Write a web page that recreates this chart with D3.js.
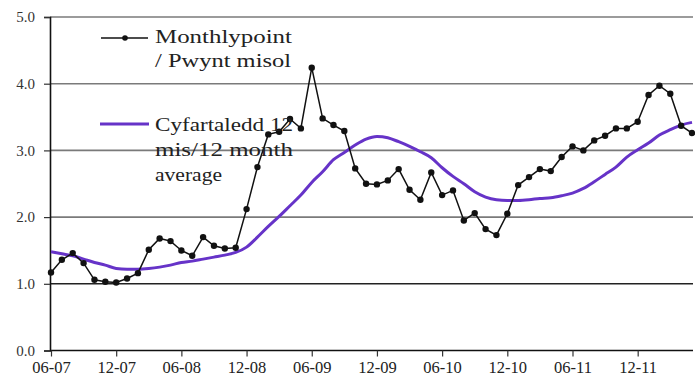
<!DOCTYPE html>
<html><head><meta charset="utf-8">
<script src="https://cdn.jsdelivr.net/npm/d3@7"></script>
<style>
html,body{margin:0;padding:0;background:#fff;}
svg{display:block;}
</style></head>
<body>
<svg id="c" width="695" height="378"></svg>
<script>
// ---- data ----
const startMonth = "06-07";
const tickLabels = ["06-07","12-07","06-08","12-08","06-09","12-09","06-10","12-10","06-11","12-11"];
const yTicks = [0,1,2,3,4,5];
const monthly = [1.17,1.36,1.46,1.31,1.06,1.03,1.02,1.08,1.16,1.51,
                 1.68,1.64,1.50,1.42,1.70,1.57,1.53,1.54,2.12,2.75,
                 3.24,3.28,3.47,3.33,4.24,3.48,3.38,3.29,2.73,2.50,
                 2.49,2.55,2.72,2.41,2.26,2.67,2.33,2.40,1.95,2.06,
                 1.82,1.73,2.05,2.48,2.60,2.72,2.69,2.90,3.06,3.00,
                 3.15,3.22,3.33,3.33,3.43,3.83,3.97,3.85,3.37,3.26];
const average = [1.48,1.45,1.42,1.37,1.32,1.28,1.23,1.22,1.22,1.23,
                 1.25,1.28,1.32,1.34,1.37,1.40,1.43,1.47,1.55,1.70,
                 1.86,2.01,2.17,2.33,2.52,2.68,2.86,2.97,3.08,3.17,
                 3.21,3.19,3.13,3.06,2.98,2.89,2.74,2.61,2.50,2.38,
                 2.30,2.26,2.25,2.25,2.26,2.28,2.29,2.32,2.36,2.43,
                 2.53,2.64,2.75,2.90,3.01,3.11,3.23,3.31,3.38,3.42];
const legendMonthly = ["Monthlypoint","/ Pwynt misol"];
const legendAverage = ["Cyfartaledd 12","mis/12 month","average"];

// ---- layout ----
const svg = d3.select("#c");
const x = d3.scaleLinear().domain([0, monthly.length - 1]).range([51, 692]);
const y = d3.scaleLinear().domain([0, 5]).range([350.5, 17]);
const xLeft = 50, xRight = 693;
const purple = "#6633c8";

// gridlines
svg.append("g").selectAll("line").data(yTicks.filter(d => d > 0)).join("line")
  .attr("x1", xLeft).attr("x2", xRight)
  .attr("y1", d => y(d)).attr("y2", d => y(d))
  .attr("stroke", d => d === 1 ? "#222" : "#7a7a7a").attr("stroke-width", 1.6);

// y axis
const yAxis = svg.append("g").attr("transform", `translate(${xLeft},0)`)
  .call(d3.axisLeft(y).tickValues(yTicks).tickFormat(d3.format(".1f")).tickSize(6).tickPadding(9));
yAxis.select(".domain").attr("stroke", "#111").attr("stroke-width", 1.6);
yAxis.selectAll(".tick line").attr("stroke", "#333").attr("stroke-width", 1.2);
yAxis.selectAll("text").attr("font-family", "Liberation Serif, serif").attr("font-size", 15).attr("fill", "#333");

// x axis
const tickIdx = tickLabels.map((_, i) => i * 6);
const xAxis = svg.append("g").attr("transform", `translate(0,${y(0)})`)
  .call(d3.axisBottom(x).tickValues(tickIdx).tickFormat((d, i) => tickLabels[i]).tickSize(6).tickSizeOuter(0).tickPadding(5));
xAxis.select(".domain").attr("d", `M${xLeft},0H${xRight}`).attr("stroke", "#111").attr("stroke-width", 1.6);
xAxis.selectAll(".tick line").attr("stroke", "#333").attr("stroke-width", 1.2);
xAxis.selectAll("text").attr("font-family", "Liberation Serif, serif").attr("font-size", 16.5).attr("fill", "#222");

// average line
svg.append("path").datum(average)
  .attr("fill", "none").attr("stroke", purple).attr("stroke-width", 3)
  .attr("d", d3.line().x((d, i) => x(i)).y(d => y(d)).curve(d3.curveMonotoneX));

// monthly line
svg.append("path").datum(monthly)
  .attr("fill", "none").attr("stroke", "#111").attr("stroke-width", 1.5)
  .attr("d", d3.line().x((d, i) => x(i)).y(d => y(d)));
svg.append("g").selectAll("circle").data(monthly).join("circle")
  .attr("cx", (d, i) => x(i)).attr("cy", d => y(d)).attr("r", 3.2).attr("fill", "#111");

// legend
const lg = svg.append("g");
lg.append("line").attr("x1", 101).attr("x2", 148).attr("y1", 38).attr("y2", 38).attr("stroke", "#111").attr("stroke-width", 1.5);
lg.append("circle").attr("cx", 125).attr("cy", 38).attr("r", 2.8).attr("fill", "#111");
lg.append("line").attr("x1", 100).attr("x2", 149).attr("y1", 124).attr("y2", 124).attr("stroke", purple).attr("stroke-width", 3);
const mLens = [137, 136];
lg.selectAll("text.m").data(legendMonthly).join("text").attr("class", "m")
  .attr("x", 155).attr("y", (d, i) => 43 + i * 24)
  .attr("textLength", (d, i) => mLens[i]).attr("lengthAdjust", "spacingAndGlyphs")
  .attr("font-family", "Liberation Serif, serif").attr("font-size", 18).attr("fill", "#222").text(d => d);
const aLens = [138, 138, 67];
lg.selectAll("text.a").data(legendAverage).join("text").attr("class", "a")
  .attr("x", 155).attr("y", (d, i) => 131 + i * 25)
  .attr("textLength", (d, i) => aLens[i]).attr("lengthAdjust", "spacingAndGlyphs")
  .attr("font-family", "Liberation Serif, serif").attr("font-size", 18).attr("fill", "#222").text(d => d);
</script>
</body></html>
